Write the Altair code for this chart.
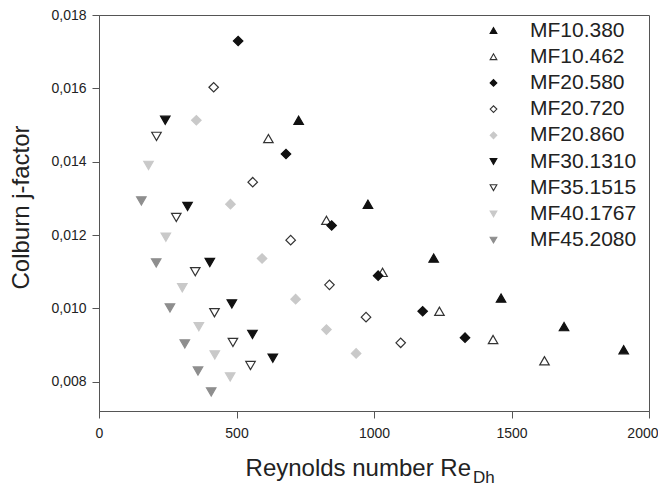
import altair as alt
import pandas as pd

series = ["MF10.380", "MF10.462", "MF20.580", "MF20.720", "MF20.860",
          "MF30.1310", "MF35.1515", "MF40.1767", "MF45.2080"]

re_mf10_380 = [726, 978, 1217, 1462, 1691, 1908]
j_mf10_380 = [0.01513, 0.01284, 0.01137, 0.01028, 0.00950, 0.00887]
re_mf10_462 = [616, 827, 1031, 1238, 1433, 1620]
j_mf10_462 = [0.01463, 0.01240, 0.01098, 0.00992, 0.00915, 0.00857]
re_mf20_580 = [506, 680, 846, 1015, 1177, 1331]
j_mf20_580 = [0.01729, 0.01421, 0.01226, 0.01089, 0.00992, 0.00920]
re_mf20_720 = [417, 559, 697, 838, 971, 1097]
j_mf20_720 = [0.01603, 0.01344, 0.01186, 0.01064, 0.00976, 0.00906]
re_mf20_860 = [354, 478, 593, 715, 827, 935]
j_mf20_860 = [0.01513, 0.01284, 0.01136, 0.01025, 0.00942, 0.00877]
re_mf30_1310 = [241, 322, 403, 483, 558, 632]
j_mf30_1310 = [0.01513, 0.01278, 0.01125, 0.01012, 0.00929, 0.00864]
re_mf35_1515 = [209, 281, 350, 420, 487, 551]
j_mf35_1515 = [0.01469, 0.01248, 0.01100, 0.00988, 0.00907, 0.00844]
re_mf40_1767 = [180, 243, 303, 363, 421, 477]
j_mf40_1767 = [0.01390, 0.01194, 0.01056, 0.00950, 0.00873, 0.00813]
re_mf45_2080 = [154, 208, 258, 312, 360, 408]
j_mf45_2080 = [0.01293, 0.01124, 0.01001, 0.00903, 0.00829, 0.00772]

x_ticks = [0, 500, 1000, 1500, 2000]
y_ticks = [0.008, 0.010, 0.012, 0.014, 0.016, 0.018]

shapes = ["triangle-up", "triangle-up", "diamond", "diamond", "diamond",
          "triangle-down", "triangle-down", "triangle-down", "triangle-down"]
fills = ["#111111", "#ffffff", "#111111", "#ffffff", "#c9c9c9",
         "#111111", "#ffffff", "#c9c9c9", "#8e8e8e"]
strokes = ["#111111", "#333333", "#111111", "#333333", "#c9c9c9",
           "#111111", "#333333", "#c9c9c9", "#8e8e8e"]

all_re = [re_mf10_380, re_mf10_462, re_mf20_580, re_mf20_720, re_mf20_860,
          re_mf30_1310, re_mf35_1515, re_mf40_1767, re_mf45_2080]
all_j = [j_mf10_380, j_mf10_462, j_mf20_580, j_mf20_720, j_mf20_860,
         j_mf30_1310, j_mf35_1515, j_mf40_1767, j_mf45_2080]

rows = []
for name, xs, ys in zip(series, all_re, all_j):
    for xv, yv in zip(xs, ys):
        rows.append({"series": name, "re": xv, "j": yv})
df = pd.DataFrame(rows)

FONT = "Liberation Sans"

legend = alt.Legend(
    title=None, orient="none", legendX=384, legendY=5,
    labelFontSize=21, labelFont=FONT, labelColor="#222222",
    symbolSize=45, symbolStrokeWidth=1.1, labelOffset=26,
    rowPadding=4.2, padding=0,
)

points = alt.Chart(df).mark_point(filled=True, size=90, strokeWidth=1.2, opacity=1).encode(
    x=alt.X("re:Q", scale=alt.Scale(domain=[0, 2000], nice=False),
            axis=alt.Axis(values=x_ticks, title=None, format="d", labelFlush=False,
                          labelAlign={"condition": {"test": "datum.value >= 2000", "value": "right"},
                                      "value": "center"},
                          labelOffset={"condition": {"test": "datum.value >= 2000", "value": 9},
                                       "value": 0})),
    y=alt.Y("j:Q", scale=alt.Scale(domain=[0.0072, 0.018], nice=False, zero=False),
            axis=alt.Axis(values=y_ticks, title="Colburn j-factor", labelFlush=False,
                          labelExpr="replace(format(datum.value, '.3f'), '.', ',')",
                          titleFontSize=24, titleX=-71, titleY=192,
                          titleAlign="center", titleBaseline="alphabetic",
                          titleAngle=-90)),
    shape=alt.Shape("series:N", scale=alt.Scale(domain=series, range=shapes), legend=legend),
    fill=alt.Fill("series:N", scale=alt.Scale(domain=series, range=fills), legend=legend),
    stroke=alt.Stroke("series:N", scale=alt.Scale(domain=series, range=strokes), legend=legend),
)

title_main = alt.Chart(pd.DataFrame({"t": ["Reynolds number Re"]})).mark_text(
    font=FONT, fontSize=24, align="right", baseline="alphabetic", color="#222222"
).encode(text="t:N", x=alt.value(372), y=alt.value(461))

title_sub = alt.Chart(pd.DataFrame({"t": ["Dh"]})).mark_text(
    font=FONT, fontSize=17, align="left", baseline="alphabetic", color="#222222"
).encode(text="t:N", x=alt.value(374), y=alt.value(468))

chart = alt.layer(points, title_main, title_sub).properties(
    width=550, height=396,
    autosize=alt.AutoSizeParams(type="none"),
    padding={"left": 91, "top": 7, "right": 9, "bottom": 75},
).configure_view(
    stroke="#555555", strokeWidth=1
).configure_axis(
    grid=False, domainColor="#555555", tickColor="#555555", tickSize=7,
    labelFont=FONT, labelFontSize=14, labelColor="#222222", labelPadding=6,
    titleFont=FONT, titleColor="#222222", titleFontWeight="normal",
).configure_axisX(labelPadding=8)

chart.save("out.html", embed_options={"renderer": "svg", "actions": False})
